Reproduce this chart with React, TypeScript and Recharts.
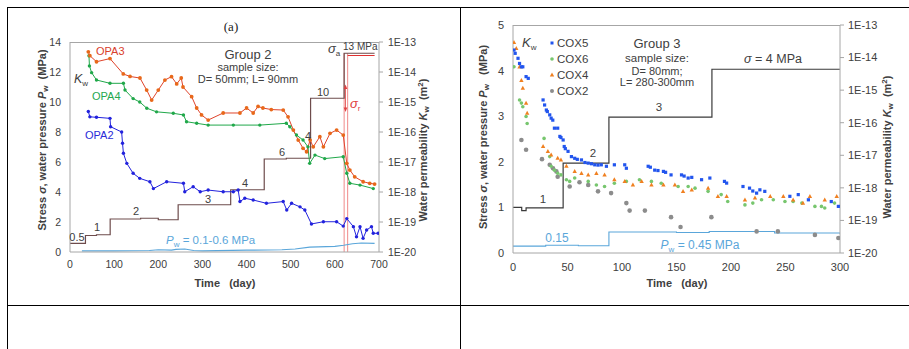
import React from "react";
import { ComposedChart, Line, Scatter, XAxis, YAxis, ReferenceLine } from "recharts";

// ---------------- Chart (a): Group 2 ----------------
const X1_TICKS = [0, 100, 200, 300, 400, 500, 600, 700];
const Y1_TICKS = [0, 2, 4, 6, 8, 10, 12, 14];
const K_TICKS = [1e-20, 1e-19, 1e-18, 1e-17, 1e-16, 1e-15, 1e-14, 1e-13];

const OPA3_DAY = [41.5, 45, 60, 90.6, 120.7, 136, 158.5, 173.7, 185, 200, 215, 230, 241.7, 252, 256, 275.6, 287, 298, 313, 347, 385, 400, 415, 426, 437, 456, 483, 494, 506, 517, 528, 536, 544, 551, 566, 574, 589, 604, 619, 627, 634, 645, 664, 679, 690];
const OPA3_KW = [4.7e-14, 3.5e-14, 2.2e-14, 2.8e-14, 8.6e-15, 7.1e-15, 6.3e-15, 2.5e-15, 1.16e-15, 2.5e-15, 5.4e-15, 7.0e-15, 4.0e-15, 6.3e-15, 3.16e-15, 1.5e-15, 6.3e-16, 3.7e-16, 2.5e-16, 4.3e-16, 4.3e-16, 6.3e-16, 4.3e-16, 7.1e-16, 6.3e-16, 5.6e-16, 5.4e-16, 3.2e-16, 1.16e-16, 5.4e-17, 2.85e-17, 2.2e-17, 5.4e-17, 3.2e-17, 7.0e-17, 3.2e-17, 9.0e-17, 1.16e-16, 7.9e-17, 9.0e-18, 5.4e-18, 3.2e-18, 2.2e-18, 1.95e-18, 1.84e-18];

const OPA4_DAY = [43, 44, 49, 60, 90.6, 121, 124.6, 143, 158, 174, 196, 234, 257, 264, 287, 313, 370, 430, 490, 498, 513, 528, 539, 543, 555, 577, 619, 627, 634, 657, 687];
const OPA4_KW = [3.5e-14, 1.6e-14, 9.5e-15, 5.4e-15, 4.2e-15, 4.2e-15, 2.5e-15, 1.3e-15, 1.0e-15, 6.2e-16, 4.7e-16, 4.2e-16, 3.7e-16, 2.2e-16, 1.95e-16, 1.7e-16, 1.7e-16, 1.7e-16, 1.95e-16, 1.5e-16, 7.9e-17, 5.4e-17, 3.2e-17, 9.0e-18, 1.7e-17, 1.3e-17, 1.5e-17, 4.2e-18, 1.95e-18, 1.7e-18, 1.3e-18];

const OPA2_DAY = [41.5, 45, 60, 90.6, 92, 117, 119, 121, 128.7, 143, 158, 181, 189, 219, 257, 260, 279, 295, 313, 347, 370, 381, 385, 396, 415, 445, 483, 491, 502, 521, 532, 547, 574, 604, 619, 627, 642, 649, 657, 664, 672, 683, 687, 698];
const OPA2_KW = [4.8e-16, 3.2e-16, 3.1e-16, 2.85e-16, 1.5e-16, 1.0e-16, 4.2e-17, 1.95e-17, 9.0e-18, 4.2e-18, 2.85e-18, 2.2e-18, 1.3e-18, 2.2e-18, 1.95e-18, 1.02e-18, 1.5e-18, 1.02e-18, 1.16e-18, 1.02e-18, 1.02e-18, 1.16e-18, 4.8e-19, 6.2e-19, 5.4e-19, 4.2e-19, 4.8e-19, 2.5e-19, 4.2e-19, 3.2e-19, 2.5e-19, 8.6e-20, 1.02e-19, 1.02e-19, 7.3e-20, 1.3e-19, 7.0e-20, 3.2e-20, 7.0e-20, 2.85e-20, 5.4e-20, 7.0e-20, 4.2e-20, 4.2e-20];

const S1_DAY = [0, 35, 60, 91, 160, 200, 245, 364, 440, 490, 545, 621, 690];
const S1_MPA = [0.57, 1.1, 1.15, 2.2, 2.25, 2.15, 3.15, 4.15, 6.2, 6.25, 10.25, 13.25, 13.25];

const SR_DAY = [629, 690];
const SR_MPA = [13.1, 13.1];

const PW1_DAY = [27, 100, 180, 200, 230, 240, 260, 270, 280, 300, 400, 480, 510, 543, 600, 620, 640, 660, 690];
const PW1_MPA = [0.07, 0.08, 0.1, 0.15, 0.12, 0.18, 0.2, 0.15, 0.1, 0.08, 0.12, 0.15, 0.2, 0.32, 0.38, 0.45, 0.55, 0.6, 0.58];

// ---------------- Chart (b): Group 3 ----------------
const X2_TICKS = [0, 50, 100, 150, 200, 250, 300];
const Y2_TICKS = [0, 1, 2, 3, 4, 5];

const COX5_DAY = [0.9, 2, 4.6, 6, 7.7, 9, 12, 14, 27.6, 29, 30.6, 31.5, 33.7, 35, 36.5, 38, 41, 43, 44, 46, 47, 48, 50.5, 53.6, 56.6, 59, 62.8, 66, 69, 72, 75, 78, 81, 85.7, 93, 102.5, 104, 124, 126, 130, 133, 138, 140, 145, 154.6, 157, 160.7, 164, 173, 180.6, 194, 196, 211, 217, 220, 223.5, 226.5, 231, 254, 261.7, 271, 292, 298.5];
const COX5_KW = [1.7e-14, 1.35e-14, 9.5e-15, 6.6e-15, 5.2e-15, 5.2e-15, 2.6e-15, 2.3e-15, 5.0e-16, 3.5e-16, 2.45e-16, 2.2e-16, 1.74e-16, 1.38e-16, 1.2e-16, 6.8e-17, 6.8e-17, 3.8e-17, 3.5e-17, 2.95e-17, 1.86e-17, 1.6e-17, 1.32e-17, 9.1e-18, 8.1e-18, 7.5e-18, 7.2e-18, 6.0e-18, 5.75e-18, 5.5e-18, 5.1e-18, 5.0e-18, 5.1e-18, 4.6e-18, 5.1e-18, 5.1e-18, 4.0e-18, 4.6e-18, 4.3e-18, 3.5e-18, 3.4e-18, 3.2e-18, 3.0e-18, 2.5e-18, 2.5e-18, 2.3e-18, 2.0e-18, 2.1e-18, 1.78e-18, 2.0e-18, 1.58e-18, 1.4e-18, 1.1e-18, 9.8e-19, 8.0e-19, 6.9e-19, 8.7e-19, 7.8e-19, 5.5e-19, 6.2e-19, 4.3e-19, 3.8e-19, 2.7e-19];

const COX6_DAY = [0.9, 6, 7.7, 9, 12, 13, 28.5, 33.7, 35, 38, 41, 44, 49, 52, 56.6, 69, 76.5, 84, 93, 104, 116, 127, 136, 151.5, 160.7, 167, 179, 191, 197, 212.8, 220, 228, 238.8, 249.5, 257, 265, 277, 283, 286, 295];
const COX6_KW = [5.2e-15, 5.0e-16, 4.0e-16, 3.1e-16, 1.55e-16, 9.5e-17, 3.3e-17, 9.1e-18, 4.6e-18, 3.5e-18, 2.8e-18, 2.5e-18, 1.78e-18, 1.58e-18, 2.0e-18, 1.58e-18, 1.23e-18, 1.1e-18, 1.38e-18, 1.58e-18, 1.78e-18, 1.58e-18, 1.38e-18, 1.1e-18, 1.1e-18, 9.8e-19, 7.8e-19, 6.2e-19, 3.8e-19, 3.0e-19, 3.4e-19, 4.3e-19, 4.3e-19, 3.8e-19, 3.8e-19, 3.4e-19, 2.7e-19, 2.7e-19, 2.4e-19, 3.4e-19];

const COX4_DAY = [0.9, 3, 6, 7.7, 9, 12, 13, 27.6, 32, 35, 41, 44, 49, 56.6, 62.8, 69, 76.5, 84, 93, 102.5, 110, 118, 127, 138, 148.5, 156, 164, 179, 188, 196, 212.8, 222, 236, 248, 257, 266, 272.4, 286, 297];
const COX4_KW = [2.9e-14, 1.9e-14, 5.2e-15, 2.0e-15, 1.15e-15, 4.0e-16, 1.95e-16, 1.86e-17, 1.32e-17, 1.02e-17, 8.1e-18, 7.2e-18, 4.6e-18, 3.2e-18, 2.8e-18, 2.5e-18, 2.8e-18, 2.5e-18, 1.78e-18, 1.58e-18, 1.23e-18, 1.58e-18, 1.23e-18, 1.23e-18, 1.23e-18, 7.8e-19, 8.7e-19, 9.8e-19, 5.5e-19, 5.5e-19, 4.3e-19, 4.9e-19, 5.5e-19, 5.5e-19, 4.3e-19, 3.4e-19, 5.5e-19, 4.3e-19, 5.5e-19];

const COX2_DAY = [7.7, 12, 26.6, 33.7, 36.7, 39.8, 41, 52, 61, 69, 78, 90, 104, 107, 121, 145, 153.7, 182, 223.5, 243, 277, 298.5];
const COX2_KW = [2.95e-17, 1.48e-17, 7.6e-18, 5.1e-18, 4.0e-18, 3.2e-18, 2.2e-18, 1.1e-18, 1.48e-18, 1.23e-18, 7.8e-19, 6.9e-19, 3.4e-19, 2.0e-19, 2.0e-19, 1.26e-19, 6.3e-20, 1.26e-19, 4.6e-20, 4.6e-20, 3.6e-20, 2.9e-20];

const S2_DAY = [0, 8, 12, 46, 88, 182.5, 300];
const S2_MPA = [1.0, 0.93, 0.99, 1.97, 2.98, 4.03, 4.02];

const PW2_DAY = [0, 30, 60, 88, 150, 180, 240, 300];
const PW2_MPA = [0.15, 0.17, 0.16, 0.46, 0.45, 0.47, 0.44, 0.42];

// ---------------- helpers ----------------
const FONT = '"Liberation Sans", Arial, Helvetica, sans-serif';
const TXT = "#404040";
const AXIS = "#a6a6a6";

function zip(days: number[], vals: number[], key: string) {
  const n = Math.min(days.length, vals.length);
  const out: any[] = [];
  for (let i = 0; i < n; i++) out.push({ day: days[i], [key]: vals[i] });
  return out;
}

const fmtK = (v: number) => "1E" + Math.round(Math.log10(v));

const dotStyle = (c: string, r = 1.7) => ({ r, fill: c, stroke: "none" });

const squareShape = (c: string) => (p: any) => (
  <rect x={p.cx - 1.6} y={p.cy - 1.6} width={3.2} height={3.2} fill={c} />
);
const circleShape = (c: string, r: number) => (p: any) => (
  <circle cx={p.cx} cy={p.cy} r={r} fill={c} />
);
const triShape = (c: string) => (p: any) => (
  <path d={`M${p.cx},${p.cy - 2.4}L${p.cx + 2.2},${p.cy + 1.6}L${p.cx - 2.2},${p.cy + 1.6}Z`} fill={c} />
);

const C_OPA3_LINE = "#e0442c";
const C_OPA3_DOT = "#e8681a";
const C_OPA4 = "#20a84a";
const C_OPA2 = "#2222dd";
const C_STRESS1 = "#6e4c4c";
const C_PW = "#5aa6da";
const C_RED = "#f08a8a";

const C_COX5 = "#2255ee";
const C_COX6 = "#77c66e";
const C_COX4 = "#f08020";
const C_COX2 = "#8c8c8c";

function Chart1() {
  const tick = { fill: TXT, fontSize: 10.5, fontFamily: FONT };
  return (
    <ComposedChart width={460} height={300} margin={{ top: 42, right: 31, left: 30, bottom: 23 }}>
      <XAxis dataKey="day" type="number" domain={[0, 700]} ticks={X1_TICKS} allowDataOverflow
        stroke={AXIS} tickLine={false} tickSize={6} tickMargin={3} tick={tick} height={25} />
      <YAxis yAxisId="L" type="number" domain={[0, 14]} ticks={Y1_TICKS} allowDataOverflow
        stroke={AXIS} tickLine={false} tickSize={6} tickMargin={3} tick={tick} width={40} />
      <YAxis yAxisId="R" orientation="right" type="number" scale="log" domain={[1e-20, 1e-13]}
        ticks={K_TICKS} tickFormatter={fmtK} allowDataOverflow stroke={AXIS} tickSize={4}
        tickMargin={5} tick={tick} width={50} />
      <ReferenceLine yAxisId="L" segment={[{ x: 621, y: 0 }, { x: 621, y: 13.25 }]} stroke={C_RED} />
      <ReferenceLine yAxisId="L" segment={[{ x: 629, y: 0 }, { x: 629, y: 13.25 }]} stroke={C_RED} />
      <Line yAxisId="L" data={zip(PW1_DAY, PW1_MPA, "v")} dataKey="v" type="linear" stroke={C_PW}
        strokeWidth={1.2} dot={false} isAnimationActive={false} />
      <Line yAxisId="L" data={zip(S1_DAY, S1_MPA, "v")} dataKey="v" type="stepAfter" stroke={C_STRESS1}
        strokeWidth={1.2} dot={false} isAnimationActive={false} />
      <Line yAxisId="L" data={zip(SR_DAY, SR_MPA, "v")} dataKey="v" type="linear" stroke="#e03030"
        strokeWidth={1} dot={false} isAnimationActive={false} />
      <Line yAxisId="R" data={zip(OPA2_DAY, OPA2_KW, "kw")} dataKey="kw" type="linear" stroke={C_OPA2}
        strokeWidth={1} dot={dotStyle(C_OPA2)} isAnimationActive={false} />
      <Line yAxisId="R" data={zip(OPA4_DAY, OPA4_KW, "kw")} dataKey="kw" type="linear" stroke={C_OPA4}
        strokeWidth={1} dot={dotStyle(C_OPA4)} isAnimationActive={false} />
      <Line yAxisId="R" data={zip(OPA3_DAY, OPA3_KW, "kw")} dataKey="kw" type="linear" stroke={C_OPA3_LINE}
        strokeWidth={1} dot={dotStyle(C_OPA3_DOT, 1.9)} isAnimationActive={false} />
    </ComposedChart>
  );
}

function Chart2() {
  const tick = { fill: TXT, fontSize: 11, fontFamily: FONT };
  return (
    <ComposedChart width={454} height={300} margin={{ top: 25, right: 19, left: 18, bottom: 22 }}>
      <XAxis dataKey="day" type="number" domain={[0, 300]} ticks={X2_TICKS} allowDataOverflow
        stroke={AXIS} tickLine={false} tickSize={6} tickMargin={4} tick={tick} height={25} />
      <YAxis yAxisId="L" type="number" domain={[0, 5]} ticks={Y2_TICKS} allowDataOverflow
        stroke={AXIS} tickLine={false} tickSize={6} tickMargin={3} tick={tick} width={40} />
      <YAxis yAxisId="R" orientation="right" type="number" scale="log" domain={[1e-20, 1e-13]}
        ticks={K_TICKS} tickFormatter={fmtK} allowDataOverflow stroke={AXIS} tickSize={4}
        tickMargin={4} tick={tick} width={50} />
      <Line yAxisId="L" data={zip(PW2_DAY, PW2_MPA, "v")} dataKey="v" type="stepAfter" stroke={C_PW}
        strokeWidth={1.1} dot={false} isAnimationActive={false} />
      <Line yAxisId="L" data={zip(S2_DAY, S2_MPA, "v")} dataKey="v" type="stepAfter" stroke="#3a3a3a"
        strokeWidth={1.2} dot={false} isAnimationActive={false} />
      <Scatter yAxisId="R" data={zip(COX2_DAY, COX2_KW, "kw")} dataKey="kw" shape={circleShape(C_COX2, 2.3)} isAnimationActive={false} />
      <Scatter yAxisId="R" data={zip(COX6_DAY, COX6_KW, "kw")} dataKey="kw" shape={circleShape(C_COX6, 1.8)} isAnimationActive={false} />
      <Scatter yAxisId="R" data={zip(COX4_DAY, COX4_KW, "kw")} dataKey="kw" shape={triShape(C_COX4)} isAnimationActive={false} />
      <Scatter yAxisId="R" data={zip(COX5_DAY, COX5_KW, "kw")} dataKey="kw" shape={squareShape(C_COX5)} isAnimationActive={false} />
    </ComposedChart>
  );
}

function Overlay() {
  const t = { fontFamily: FONT, fill: TXT };
  return (
    <svg width={909} height={349} style={{ position: "absolute", left: 0, top: 0, pointerEvents: "none" }}>
      {/* plot frame top edges */}
      <line x1={70} y1={42.5} x2={379} y2={42.5} stroke={AXIS} />
      <line x1={513} y1={25.5} x2={840} y2={25.5} stroke={AXIS} />

      {/* ---- chart (a) ---- */}
      <text x={231} y={31} textAnchor="middle" fontFamily='"Liberation Serif", "DejaVu Serif", serif' fontSize={13} fill="#222">(a)</text>
      <text transform="translate(46,140) rotate(-90)" textAnchor="middle" fontSize={11} fontWeight="bold" {...t}>
        Stress <tspan fontStyle="italic">σ</tspan>, water pressure <tspan fontStyle="italic">P</tspan>
        <tspan fontSize={8} dy={2}>w</tspan><tspan dy={-2}>{"\u00a0\u00a0(MPa)"}</tspan>
      </text>
      <text transform="translate(427,150) rotate(-90)" textAnchor="middle" fontSize={11} fontWeight="bold" {...t}>
        Water permeability <tspan fontStyle="italic">K</tspan>
        <tspan fontSize={8} dy={2}>w</tspan><tspan dy={-2}>{"\u00a0\u00a0(m"}</tspan>
        <tspan fontSize={8} dy={-4}>2</tspan><tspan dy={4}>)</tspan>
      </text>
      <text x={225} y={287} textAnchor="middle" fontSize={11} fontWeight="bold" {...t}>{"Time\u00a0\u00a0\u00a0(day)"}</text>

      <text x={96} y={55} fontSize={11} fontFamily={FONT} fill="#d9402c">OPA3</text>
      <text x={92} y={100} fontSize={11} fontFamily={FONT} fill="#25a850">OPA4</text>
      <text x={85} y={139} fontSize={11} fontFamily={FONT} fill="#2a2ad8">OPA2</text>
      <text x={74} y={83} fontSize={12.5} {...t}><tspan fontStyle="italic">K</tspan><tspan fontSize={8} dy={3}>w</tspan></text>

      <text x={248} y={58.5} textAnchor="middle" fontSize={13} {...t}>Group 2</text>
      <text x={248} y={71} textAnchor="middle" fontSize={11} {...t}>sample size:</text>
      <text x={248} y={83} textAnchor="middle" fontSize={11} {...t}>D= 50mm; L= 90mm</text>

      <text x={328} y={53} fontSize={13} {...t}><tspan fontStyle="italic">σ</tspan><tspan fontSize={8} dy={3}>a</tspan></text>
      <text x={343} y={50} fontSize={10} {...t}>13 MPa</text>
      <text x={323} y={96} textAnchor="middle" fontSize={11} {...t}>10</text>
      <text x={350} y={108} fontSize={13} fontFamily={FONT} fill="#e03c3c"><tspan fontStyle="italic">σ</tspan><tspan fontSize={8} dy={3}>r</tspan></text>
      <line x1={345.5} y1={88} x2={345.5} y2={110} stroke="#e04040" strokeWidth={0.8} />
      <path d="M345.5,84.5 L347.3,89 L343.7,89 Z" fill="#e04040" />
      <path d="M345.5,112 L347.3,107.5 L343.7,107.5 Z" fill="#e04040" />
      <text x={308} y={140} textAnchor="middle" fontSize={11} {...t}>4</text>

      <text x={282} y={156} textAnchor="middle" fontSize={11} {...t}>6</text>
      <text x={245} y={187} textAnchor="middle" fontSize={11} {...t}>4</text>
      <text x={208} y={203} textAnchor="middle" fontSize={11} {...t}>3</text>
      <text x={136} y={215} textAnchor="middle" fontSize={11} {...t}>2</text>
      <text x={97} y={231} textAnchor="middle" fontSize={11} {...t}>1</text>
      <text x={77} y={241} textAnchor="middle" fontSize={11} {...t}>0.5</text>
      <text x={166} y={244} fontSize={11.5} fontFamily={FONT} fill={C_PW}>
        <tspan fontStyle="italic">P</tspan><tspan fontSize={8} dy={3}>w</tspan><tspan dy={-3}>{" = 0.1-0.6 MPa"}</tspan>
      </text>

      {/* ---- chart (b) ---- */}
      <text transform="translate(487,137) rotate(-90)" textAnchor="middle" fontSize={11} fontWeight="bold" {...t}>
        Stress <tspan fontStyle="italic">σ</tspan>, water pressure <tspan fontStyle="italic">P</tspan>
        <tspan fontSize={8} dy={2}>w</tspan><tspan dy={-2}>{"\u00a0\u00a0\u00a0(MPa)"}</tspan>
      </text>
      <text transform="translate(891,147) rotate(-90)" textAnchor="middle" fontSize={11} fontWeight="bold" {...t}>
        Water permeability <tspan fontStyle="italic">K</tspan>
        <tspan fontSize={8} dy={2}>w</tspan><tspan dy={-2}>{"\u00a0\u00a0(m"}</tspan>
        <tspan fontSize={8} dy={-4}>2</tspan><tspan dy={4}>)</tspan>
      </text>
      <text x={677} y={287} textAnchor="middle" fontSize={11} fontWeight="bold" {...t}>{"Time\u00a0\u00a0\u00a0(day)"}</text>

      <text x={522} y={47} fontSize={13} {...t}><tspan fontStyle="italic">K</tspan><tspan fontSize={8} dy={3}>w</tspan></text>
      <rect x={550.5} y={41.5} width={3} height={3} fill={C_COX5} />
      <text x={557} y={47} fontSize={11.5} {...t}>COX5</text>
      <circle cx={552} cy={59} r={1.8} fill={C_COX6} />
      <text x={557} y={63} fontSize={11.5} {...t}>COX6</text>
      <path d="M552,72.6 L554.2,76.6 L549.8,76.6 Z" fill={C_COX4} />
      <text x={557} y={79} fontSize={11.5} {...t}>COX4</text>
      <circle cx={552} cy={91} r={2} fill={C_COX2} />
      <text x={557} y={95} fontSize={11.5} {...t}>COX2</text>

      <text x={657} y={48} textAnchor="middle" fontSize={13} {...t}>Group 3</text>
      <text x={657} y={62} textAnchor="middle" fontSize={11.5} {...t}>sample size:</text>
      <text x={657} y={75} textAnchor="middle" fontSize={11} {...t}>D= 80mm;</text>
      <text x={657} y={86} textAnchor="middle" fontSize={11} {...t}>L= 280-300mm</text>

      <text x={773} y={63} textAnchor="middle" fontSize={12.5} {...t}><tspan fontStyle="italic">σ</tspan>{" = 4 MPa"}</text>
      <text x={659} y={111} textAnchor="middle" fontSize={11.5} {...t}>3</text>
      <text x={593} y={157} textAnchor="middle" fontSize={11.5} {...t}>2</text>
      <text x={543} y={203} textAnchor="middle" fontSize={11.5} {...t}>1</text>
      <text x={557} y={242} textAnchor="middle" fontSize={12} fontFamily={FONT} fill={C_PW}>0.15</text>
      <text x={700} y={249} textAnchor="middle" fontSize={12} fontFamily={FONT} fill={C_PW}>
        <tspan fontStyle="italic">P</tspan><tspan fontSize={8} dy={3}>w</tspan><tspan dy={-3}>{" = 0.45 MPa"}</tspan>
      </text>
    </svg>
  );
}

export default function App() {
  const line = (s: React.CSSProperties) => <div style={{ position: "absolute", background: "#000", ...s }} />;
  return (
    <div style={{ position: "absolute", left: 0, top: 0, width: 909, height: 349, background: "#fff", overflow: "hidden" }}>
      <div style={{ position: "absolute", left: 0, top: 0 }}>
        <Chart1 />
      </div>
      <div style={{ position: "absolute", left: 455, top: 0 }}>
        <Chart2 />
      </div>
      <Overlay />
      {line({ left: 7, top: 7, width: 902, height: 1 })}
      {line({ left: 7, top: 7, width: 1, height: 342 })}
      {line({ left: 460, top: 7, width: 1, height: 342 })}
      {line({ left: 7, top: 305, width: 902, height: 1 })}
    </div>
  );
}
